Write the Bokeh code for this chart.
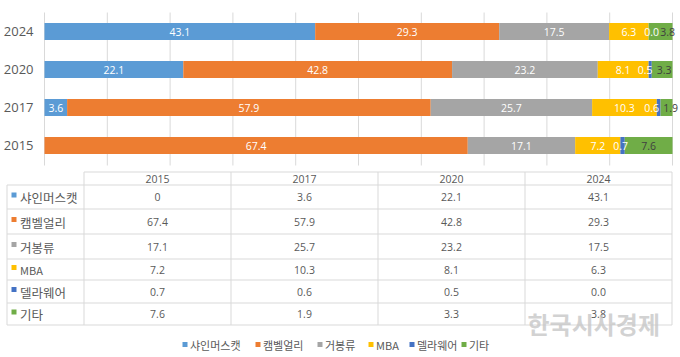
from bokeh.plotting import figure
from bokeh.models import ColumnDataSource, Range1d
from bokeh.core.properties import value
from bokeh.embed import file_html
from bokeh.resources import INLINE

# ---------------- data ----------------
years = ["2015", "2017", "2020", "2024"]
series_names = ["샤인머스캣", "캠벨얼리", "거봉류", "MBA", "델라웨어", "기타"]
shine = ["0", "3.6", "22.1", "43.1"]
campbell = ["67.4", "57.9", "42.8", "29.3"]
kyoho = ["17.1", "25.7", "23.2", "17.5"]
mba = ["7.2", "10.3", "8.1", "6.3"]
delaware = ["0.7", "0.6", "0.5", "0.0"]
others = ["7.6", "1.9", "3.3", "3.8"]
grid_ticks = list(range(0, 101, 10))

# ---------------- style / layout ----------------
colors = ["#5B9BD5", "#ED7D31", "#A5A5A5", "#FFC000", "#4472C4", "#70AD47"]
label_colors = ["#FFFFFF"] * 5 + ["#404040"]
TXT = "#595959"
GRID = "#D9D9D9"
NUM_FONT = value("Open Sans")
KO_FONT = value("Noto Sans CJK KR")

W, H = 680, 357
BAR_LEFT, BAR_RIGHT = 44, 672        # pixel span of 0..100
PLOT_TOP, PLOT_BOTTOM = 12, 165      # pixel span of the bar area
CAT_STEP = 38                        # pixels per category
CAT_FIRST = 145                      # pixel centre of first category (bottom)
VMAX = 100.0
# small pixel nudges of crowded data labels (series index, year index) -> px
label_nudge = {(4, 0): -2, (4, 1): -7, (5, 1): 4, (4, 2): -5, (5, 2): 2,
               (4, 3): 3, (5, 3): 7}

series_txt = [shine, campbell, kyoho, mba, delaware, others]
keys = [f"s{i}" for i in range(len(series_txt))]
pos = list(range(len(years)))
data = {"pos": pos, "year": years}
for k, t in zip(keys, series_txt):
    data[k] = [float(x) for x in t]
src = ColumnDataSource(data)

p = figure(width=W, height=H, x_range=Range1d(0, W), y_range=Range1d(H, 0),
           output_backend="svg", toolbar_location=None,
           x_axis_location=None, y_axis_location=None,
           min_border_left=0, min_border_right=0, min_border_top=0, min_border_bottom=0)
p.grid.visible = False
p.outline_line_color = None
p.background_fill_color = "white"
p.border_fill_color = "white"

ppu = (BAR_RIGHT - BAR_LEFT) / VMAX
p.extra_x_ranges = {"val": Range1d(-BAR_LEFT / ppu, (W - BAR_LEFT) / ppu)}
p.extra_y_ranges = {"cat": Range1d(-(H - CAT_FIRST) / CAT_STEP, CAT_FIRST / CAT_STEP)}

# vertical gridlines
p.segment(x0=grid_ticks, x1=grid_ticks, y0=[PLOT_TOP] * len(grid_ticks),
          y1=[PLOT_BOTTOM] * len(grid_ticks), line_color=GRID, line_width=1,
          x_range_name="val")

# stacked bars
p.hbar_stack(keys, y="pos", height=0.45, color=colors, line_color=None, source=src,
             x_range_name="val", y_range_name="cat")

# data labels
lx, ly, lt, lc, lo = [], [], [], [], []
for j in pos:
    left = 0.0
    for i, k in enumerate(keys):
        v = data[k][j]
        if series_txt[i][j] != "0":
            lx.append(left + v / 2)
            ly.append(j)
            lt.append(series_txt[i][j])
            lc.append(label_colors[i])
            lo.append(label_nudge.get((i, j), 0))
        left += v
p.text(x="x", y="y", text="t", text_color="c", x_offset="o", text_align="center",
       text_baseline="middle", text_font=NUM_FONT, text_font_size="10.5px",
       source=ColumnDataSource(dict(x=lx, y=ly, t=lt, c=lc, o=lo)),
       x_range_name="val", y_range_name="cat")

# category labels (years)
p.text(x=[BAR_LEFT - 11] * len(years), y=pos, text=years, text_align="right",
       text_baseline="middle", text_color=TXT, text_font=NUM_FONT, text_font_size="13px",
       y_range_name="cat")

# ---------------- data table ----------------
col_edges = [83.5, 230.5, 377.5, 524.5, 671.5]
row_edges = [184.5, 208.5, 233.5, 258.5, 279.5, 302.5, 324.5]
header_top = 171.5
left_edge = 6.5

x0, y0, x1, y1 = [], [], [], []
x0.append(col_edges[0]); y0.append(header_top); x1.append(col_edges[-1]); y1.append(header_top)
for r in row_edges:
    x0.append(left_edge); y0.append(r); x1.append(col_edges[-1]); y1.append(r)
x0.append(left_edge); y0.append(row_edges[0]); x1.append(left_edge); y1.append(row_edges[-1])
for c in col_edges:
    x0.append(c); y0.append(header_top); x1.append(c); y1.append(row_edges[-1])
p.segment(x0=x0, y0=y0, x1=x1, y1=y1, line_color=GRID, line_width=1)

col_centers = [(a + b) / 2 for a, b in zip(col_edges[:-1], col_edges[1:])]
row_centers = [(a + b) / 2 for a, b in zip(row_edges[:-1], row_edges[1:])]

p.text(x=col_centers, y=[(header_top + row_edges[0]) / 2] * len(years), text=years,
       text_align="center", text_baseline="middle", text_color=TXT,
       text_font=NUM_FONT, text_font_size="10.5px")

vx, vy, vt = [], [], []
for i, st in enumerate(series_txt):
    for j, s in enumerate(st):
        vx.append(col_centers[j]); vy.append(row_centers[i]); vt.append(s)
p.text(x=vx, y=vy, text=vt, text_align="center", text_baseline="middle", text_color=TXT,
       text_font=NUM_FONT, text_font_size="10.5px")

p.rect(x=[13.5] * 6, y=[rc - 2 for rc in row_centers], width=5, height=5,
       fill_color=colors, line_color=None)
p.text(x=[19.5] * 6, y=[rc + 0.5 for rc in row_centers], text=series_names,
       text_align="left", text_baseline="middle", text_color=TXT,
       text_font=KO_FONT, text_font_size=["12.5px"] * 3 + ["11px"] + ["12.5px"] * 2)

# ---------------- legend ----------------
leg_sq = [184.5, 257.5, 319.5, 370.5, 411.5, 463.5]
leg_y = 344
p.rect(x=leg_sq, y=[leg_y] * 6, width=5, height=5, fill_color=colors, line_color=None)
p.text(x=[s + 5 for s in leg_sq], y=[leg_y + 0.5] * 6, text=series_names,
       text_align="left", text_baseline="middle", text_color=TXT,
       text_font=KO_FONT, text_font_size="11px")

# ---------------- watermark ----------------
p.text(x=[527], y=[323], text=["한국시사경제"], text_align="left", text_baseline="middle",
       text_color="#C4C4C4", text_alpha=0.75, text_font=KO_FONT, text_font_size="24px",
       text_font_style="bold")

open("out.html", "w").write(file_html(p, INLINE))
